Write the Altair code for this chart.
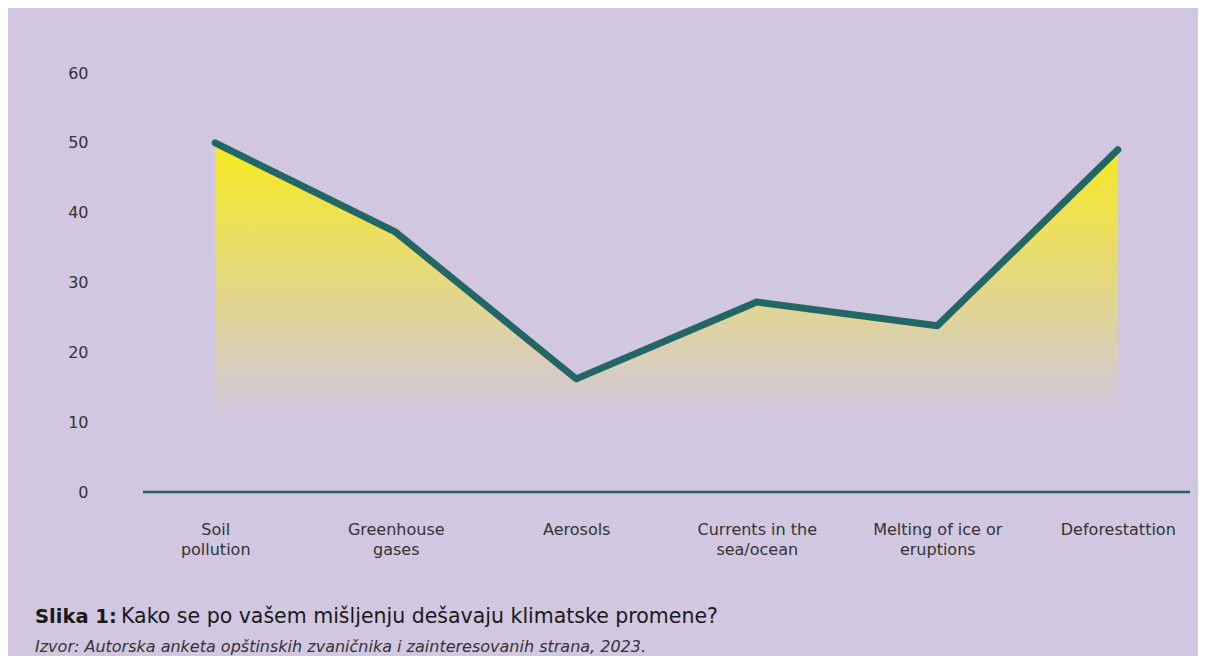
import altair as alt
import pandas as pd

categories = ["Soil|pollution", "Greenhouse|gases", "Aerosols", "Currents in the|sea/ocean",
              "Melting of ice or|eruptions", "Deforestattion"]
values = [50.0, 37.2, 16.2, 27.2, 23.8, 49.0]
fade_base = 11
y_ticks = [0, 10, 20, 30, 40, 50, 60]
title_bold = "Slika 1:"
title_rest = "Kako se po vašem mišljenju dešavaju klimatske promene?"
source = "Izvor: Autorska anketa opštinskih zvaničnika i zainteresovanih strana, 2023."

BG = "#d1c7e0"
TEAL = "#236666"
YELLOW = "#f7ea1e"
FONT = "DejaVu Sans"

df = pd.DataFrame({"cat": categories, "val": values, "base": [fade_base] * len(values)})

x_enc = alt.X("cat:N", sort=categories, title=None,
              scale=alt.Scale(padding=0.4),
              axis=alt.Axis(labelExpr="split(datum.label, '|')", labelAngle=0,
                            domain=False, ticks=False, labelPadding=42,
                            labelFontSize=16, labelColor="#333333", labelFont=FONT,
                            labelLineHeight=20, labelBaseline="alphabetic"))
y_scale = alt.Scale(domain=[0, 60], nice=False, zero=True)
y_axis = alt.Axis(values=y_ticks, grid=False, domain=False, ticks=False, labelPadding=55,
                  labelFontSize=16, labelColor="#333333", labelFont=FONT, title=None)

base = alt.Chart(df)

area = base.mark_area(
    color=alt.Gradient(gradient="linear",
                       stops=[alt.GradientStop(color=YELLOW, offset=0),
                              alt.GradientStop(color=BG, offset=1)],
                       x1=1, x2=1, y1=0, y2=1)
).encode(x=x_enc, y=alt.Y("val:Q", scale=y_scale, axis=y_axis), y2="base:Q")

line = base.mark_line(color=TEAL, strokeWidth=7, strokeCap="round", strokeJoin="round").encode(
    x=x_enc, y=alt.Y("val:Q", scale=y_scale, axis=y_axis))

zero = alt.Chart(pd.DataFrame({"z": [0]})).mark_rule(color=TEAL, strokeWidth=2.5).encode(
    y=alt.Y("z:Q", scale=y_scale, axis=y_axis))

tdf = pd.DataFrame({"a": [title_bold], "b": [title_rest], "s": [source]})
t1 = alt.Chart(tdf).mark_text(align="left", baseline="alphabetic", font=FONT, fontSize=19.5,
                              fontWeight="bold", color="#1a1a1a").encode(
    text="a:N", x=alt.value(-108), y=alt.value(550))
t2 = alt.Chart(tdf).mark_text(align="left", baseline="alphabetic", font=FONT, fontSize=20.5,
                              color="#1a1a1a").encode(
    text="b:N", x=alt.value(-22), y=alt.value(550))
t3 = alt.Chart(tdf).mark_text(align="left", baseline="alphabetic", font=FONT, fontSize=16,
                              fontStyle="italic", color="#333333").encode(
    text="s:N", x=alt.value(-108), y=alt.value(579))

chart = alt.layer(area, zero, line, t1, t2, t3).properties(
    width=1047, height=419,
    autosize=alt.AutoSizeParams(type="none"),
    padding={"left": 135, "top": 65, "right": 8, "bottom": 164},
    background=BG,
).configure_view(stroke=None)

chart.save("out.html", embed_options={"renderer": "svg", "actions": False})
